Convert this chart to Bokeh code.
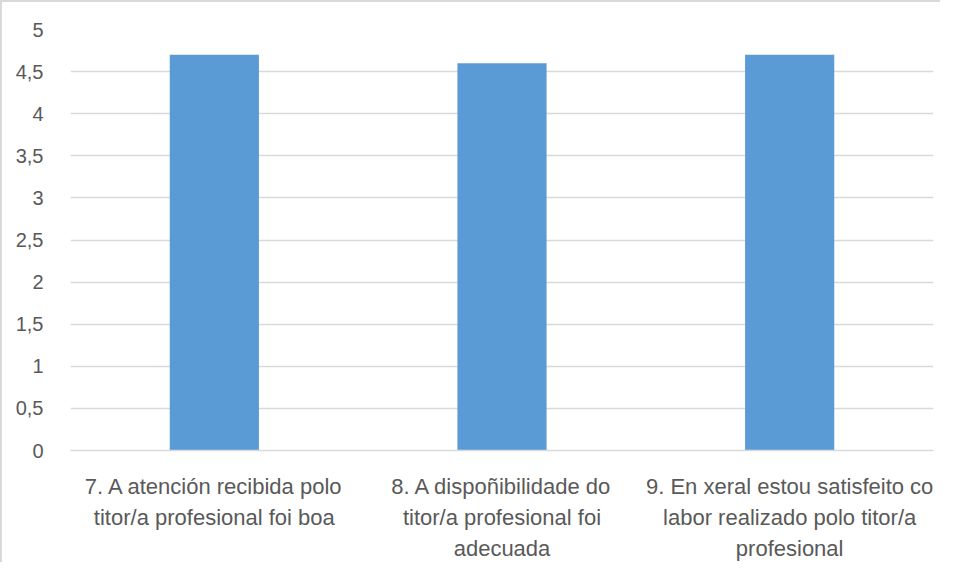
from bokeh.plotting import figure
from bokeh.models import FactorRange, Range1d, FixedTicker, CustomJSTickFormatter, ColumnDataSource
from bokeh.embed import file_html
from bokeh.resources import INLINE

categories = [
    "7. A atención recibida polo\ntitor/a profesional foi boa",
    "8. A dispoñibilidade do\ntitor/a profesional foi\nadecuada",
    "9. En xeral estou satisfeito co\nlabor realizado polo titor/a\nprofesional",
]
values = [4.7, 4.6, 4.7]
y_ticks = [0, 0.5, 1, 1.5, 2, 2.5, 3, 3.5, 4, 4.5, 5]

FONT = "Liberation Sans"
GRAY = "#595959"

source = ColumnDataSource(data=dict(cat=categories, val=values))

p = figure(
    x_range=FactorRange(*categories, range_padding=0),
    y_range=Range1d(0, 5),
    width=940, height=562,
    output_backend="svg", toolbar_location=None,
    min_border_left=68, min_border_right=9, min_border_top=27, min_border_bottom=108,
    styles={"border-top": "2px solid #d9d9d9", "border-left": "2px solid #d9d9d9"},
)
p.outline_line_color = None
p.background_fill_color = "white"
p.border_fill_color = "white"

p.vbar(x="cat", top="val", width=0.31, source=source, color="#5b9bd5", line_color=None)

p.xgrid.grid_line_color = None
p.ygrid.grid_line_color = "#d9d9d9"
p.ygrid.grid_line_width = 1.5

p.yaxis.ticker = FixedTicker(ticks=y_ticks)
p.yaxis.formatter = CustomJSTickFormatter(code="return tick.toString().replace('.', ',');")
p.yaxis.axis_line_color = None
p.yaxis.major_tick_line_color = None
p.yaxis.minor_tick_line_color = None
p.yaxis.major_label_standoff = 21
p.yaxis.major_label_text_font = FONT
p.yaxis.major_label_text_font_size = "20px"
p.yaxis.major_label_text_color = GRAY

p.xaxis.axis_line_color = "#d9d9d9"
p.xaxis.axis_line_width = 1.5
p.xaxis.major_tick_line_color = None
p.xaxis.minor_tick_line_color = None
p.xaxis.major_label_standoff = 17
p.xaxis.major_label_text_font = FONT
p.xaxis.major_label_text_font_size = "22px"
p.xaxis.major_label_text_color = GRAY
p.xaxis.major_label_text_line_height = 1.25

open("out.html", "w").write(file_html(p, INLINE))
